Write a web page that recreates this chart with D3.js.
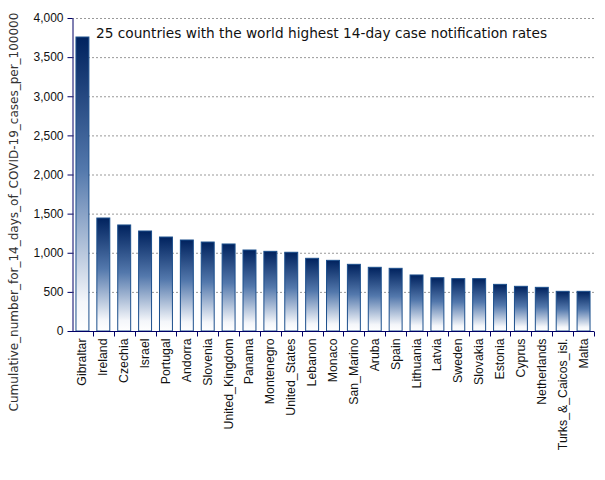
<!DOCTYPE html>
<html><head><meta charset="utf-8">
<script src="https://cdn.jsdelivr.net/npm/d3@7"></script>
<style>body{margin:0;background:#fff}svg{display:block}</style>
</head><body>
<script>
const countries = ["Gibraltar","Ireland","Czechia","Israel","Portugal","Andorra","Slovenia","United_Kingdom","Panama","Montenegro","United_States","Lebanon","Monaco","San_Marino","Aruba","Spain","Lithuania","Latvia","Sweden","Slovakia","Estonia","Cyprus","Netherlands","Turks_&_Caicos_isl.","Malta"];
const rates = [3757,1444,1355,1278,1201,1163,1137,1112,1035,1018,1006,929,903,852,814,801,716,681,669,669,596,571,558,507,507];
const yTicks = [0,500,1000,1500,2000,2500,3000,3500,4000];
const title = "25 countries with the world highest 14-day case notification rates";
const yLabel = "Cumulative_number_for_14_days_of_COVID-19_cases_per_100000";

const W = 605, H = 480;
const m = {left:72, right:11, top:18, bottom:149};
const svg = d3.select("body").append("svg").attr("width",W).attr("height",H);
const defs = svg.append("defs");
const grad = defs.append("linearGradient").attr("id","g").attr("x1",0).attr("y1",0).attr("x2",0).attr("y2",1);
grad.append("stop").attr("offset","0%").attr("stop-color","#00225e");
grad.append("stop").attr("offset","45%").attr("stop-color","#5378ac");
grad.append("stop").attr("offset","90%").attr("stop-color","#f4f6fa");
grad.append("stop").attr("offset","100%").attr("stop-color","#ffffff");

const x = d3.scaleBand().domain(countries).range([m.left, W-m.right]).paddingInner(0.38).paddingOuter(0.19);
const y = d3.scaleLinear().domain([0,4000]).range([H-m.bottom, m.top]);

// grid
svg.append("g").selectAll("line").data(yTicks.filter(d=>d>0)).join("line")
  .attr("x1",m.left).attr("x2",W-m.right)
  .attr("y1",d=>y(d)+0.5).attr("y2",d=>y(d)+0.5)
  .attr("stroke","#999").attr("stroke-dasharray","2,2").attr("stroke-width",1);

// bars
svg.append("g").selectAll("rect").data(countries).join("rect")
  .attr("x",d=>x(d)).attr("width",x.bandwidth())
  .attr("y",(d,i)=>y(rates[i])).attr("height",(d,i)=>y(0)-y(rates[i]))
  .attr("fill","url(#g)").attr("stroke","#1c4f8c").attr("stroke-width",1);

// y axis
const yAxis = svg.append("g").attr("transform",`translate(${m.left+0.5},0)`)
  .call(d3.axisLeft(y).tickValues(yTicks).tickFormat(d3.format(",")).tickSize(5).tickSizeOuter(0));
yAxis.select(".domain").attr("stroke","#000066");
yAxis.selectAll(".tick line").attr("stroke","#000066");
yAxis.selectAll("text").attr("font-family","Liberation Sans, Arial, sans-serif").attr("font-size",12).attr("fill","#111").attr("dx","-1");

// x axis
const band = (x.range()[1]-x.range()[0])/countries.length;
const xAxis = svg.append("g").attr("transform",`translate(0,${y(0)+0.5})`);
xAxis.append("line").attr("x1",m.left).attr("x2",W-m.right).attr("stroke","#000066");
xAxis.selectAll("line.tk").data(countries.slice(1).concat(["_end"])).join("line").attr("class","tk")
  .attr("x1",(d,i)=>Math.round(m.left+band*(i+1))+0.5).attr("x2",(d,i)=>Math.round(m.left+band*(i+1))+0.5)
  .attr("y1",0).attr("y2",5).attr("stroke","#000066");
xAxis.selectAll("text").data(countries).join("text")
  .attr("transform",d=>`translate(${x(d)+x.bandwidth()/2+4},7) rotate(-90)`)
  .attr("text-anchor","end")
  .attr("font-family","Liberation Sans, Arial, sans-serif").attr("font-size",12.3).attr("fill","#111")
  .text(d=>d);

// title
svg.append("text").attr("x",96).attr("y",38)
  .attr("font-family","DejaVu Sans, sans-serif").attr("font-size",13.7).attr("fill","#111").text(title);

// y label
svg.append("text").attr("transform",`translate(18,${212}) rotate(-90)`)
  .attr("text-anchor","middle").attr("font-family","DejaVu Sans, sans-serif").attr("font-size",12).attr("fill","#333").text(yLabel);
</script>
</body></html>
